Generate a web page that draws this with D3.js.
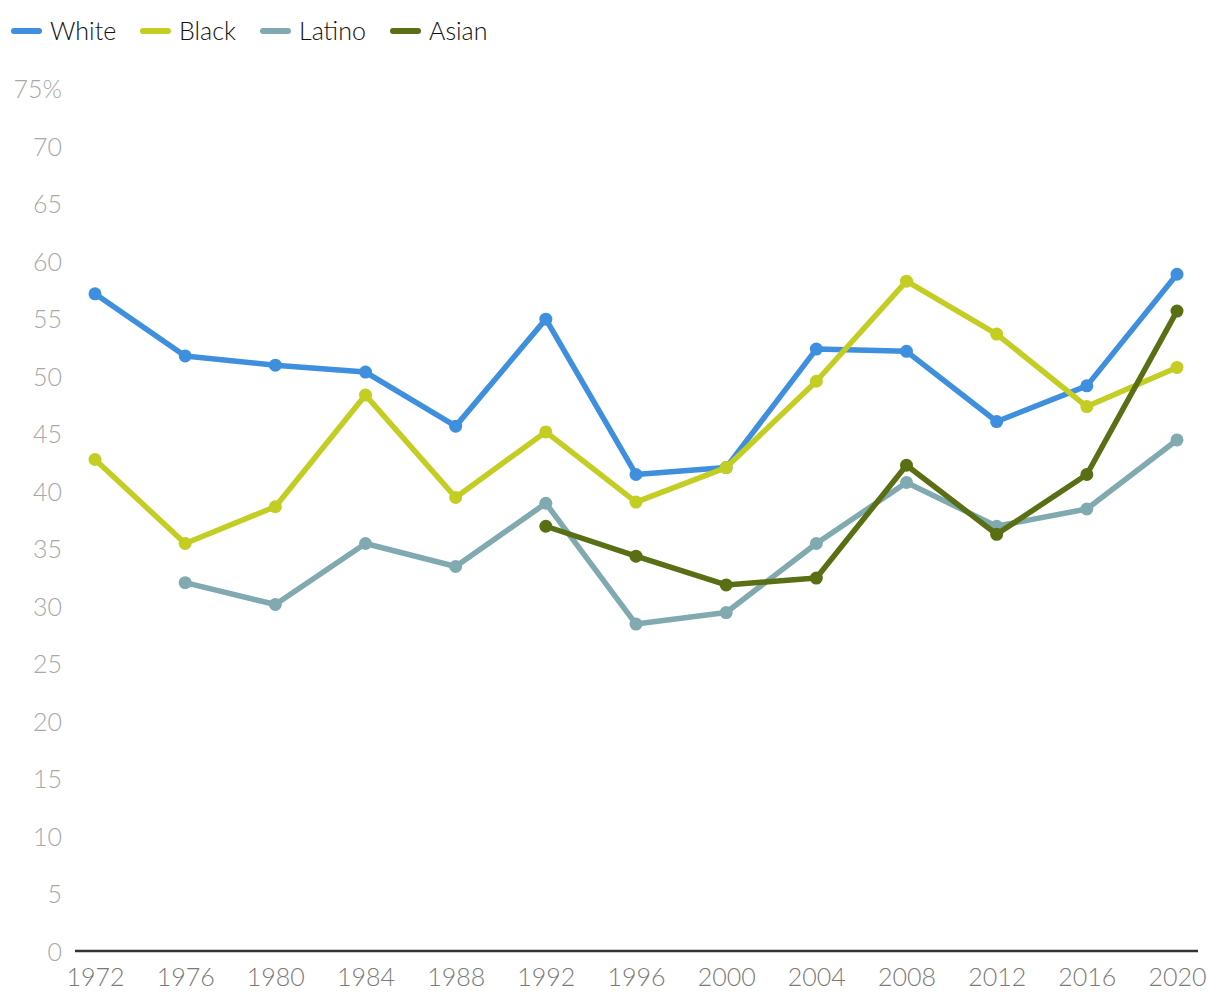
<!DOCTYPE html>
<html><head><meta charset="utf-8">
<script src="https://cdn.jsdelivr.net/npm/d3@7"></script>
<style>body{margin:0;background:#fff;}text{font-family:Lato,"Open Sans",sans-serif;font-weight:300;}</style>
</head><body>
<svg id="chart" width="1220" height="1006"></svg>
<script>
const years = [1972,1976,1980,1984,1988,1992,1996,2000,2004,2008,2012,2016,2020];
const white  = [57.2,51.8,51.0,50.4,45.7,55.0,41.5,42.1,52.4,52.2,46.1,49.2,58.9];
const black  = [42.8,35.5,38.7,48.4,39.5,45.2,39.1,42.1,49.6,58.3,53.7,47.4,50.8];
const latino = [null,32.1,30.2,35.5,33.5,39.0,28.5,29.5,35.5,40.8,37.0,38.5,44.5];
const asian  = [null,null,null,null,null,37.0,34.4,31.9,32.5,42.3,36.3,41.5,55.7];
const seriesNames = ["White","Black","Latino","Asian"];
const seriesColors = ["#3f8fdf","#c3cd22","#80aab0","#5a6e14"];
const yTicks = [0,5,10,15,20,25,30,35,40,45,50,55,60,65,70,75];

const seriesData = [white,black,latino,asian];
const svg = d3.select("#chart");
const x = d3.scalePoint().domain(years).range([95,1177]);
const y = d3.scaleLinear().domain([0,75]).range([952,89]);

// y labels
svg.append("g").selectAll("text").data(yTicks).join("text")
  .attr("x",62).attr("y",d=>y(d)).attr("dy","0.36em")
  .attr("text-anchor","end").attr("fill","#a8a8a8").attr("font-size",25)
  .text(d=>d===75?"75%":d);

// x axis
const xAxis = d3.axisBottom(x).tickSize(0).tickPadding(17);
const gx = svg.append("g").attr("transform","translate(0,951)").call(xAxis);
gx.select(".domain").remove();
gx.selectAll("text").attr("fill","#7a7a7a").attr("font-size",25)
  .style("font-family","Lato,'Open Sans',sans-serif").style("font-weight",300);
svg.append("line").attr("x1",75).attr("x2",1198).attr("y1",951).attr("y2",951)
  .attr("stroke","#333").attr("stroke-width",2.5);

const line = d3.line().defined(d=>d.v!=null).x(d=>x(d.year)).y(d=>y(d.v));
seriesData.forEach((vals,i)=>{
  const pts = years.map((yr,j)=>({year:yr,v:vals[j]}));
  const g = svg.append("g");
  g.append("path").datum(pts).attr("d",line).attr("fill","none")
    .attr("stroke",seriesColors[i]).attr("stroke-width",5.5).attr("stroke-linejoin","round");
  g.selectAll("circle").data(pts.filter(d=>d.v!=null)).join("circle")
    .attr("cx",d=>x(d.year)).attr("cy",d=>y(d.v)).attr("r",6.5).attr("fill",seriesColors[i]);
});

// legend
const legendX = [11,140,260,390];
const lg = svg.append("g");
seriesNames.forEach((n,i)=>{
  lg.append("line").attr("x1",legendX[i]+3).attr("x2",legendX[i]+28).attr("y1",31).attr("y2",31)
    .attr("stroke",seriesColors[i]).attr("stroke-width",6).attr("stroke-linecap","round");
  lg.append("text").attr("x",legendX[i]+39).attr("y",31).attr("dy","0.36em")
    .attr("font-size",25).attr("fill","#111").text(n);
});
</script>
</body></html>
